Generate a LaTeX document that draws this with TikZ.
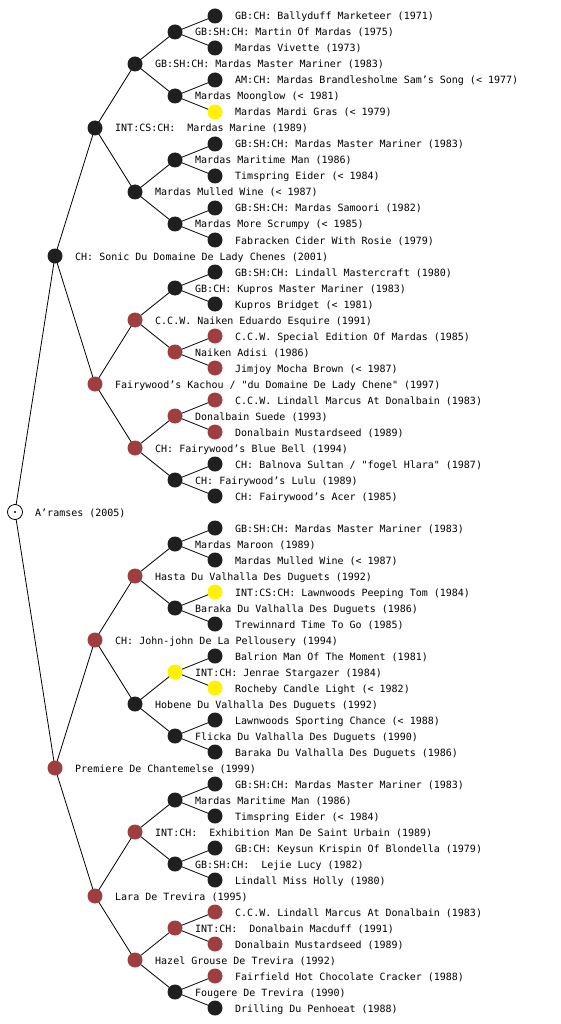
\documentclass[tikz,border=0pt]{standalone}
\usepackage{fontspec}
\setmainfont{DejaVu Sans Mono}
\usepackage{tikz}
\usetikzlibrary{backgrounds}
\definecolor{dogred}{RGB}{158,62,62}

\begin{document}
\begin{tikzpicture}[
    x=1pt, y=-1pt,
    dog/.style={circle, inner sep=0pt, minimum size=15pt},
    blkdog/.style={dog, fill=black!88},
    reddog/.style={dog, fill=dogred},
    ylwdog/.style={dog, fill=yellow},
    rootdog/.style={dog, draw=black, line width=0.8pt, fill=white,
                    minimum size=15pt},
    lbl/.style={anchor=base west, inner sep=0pt,
                font=\fontsize{10}{12}\selectfont},
    edge/.style={black, line width=0.8pt},
]

\useasboundingbox (0,0) rectangle (560,1024);

% Dogs, one per row (row = 16px), generation gives the column
\foreach \r/\g/\s/\t in {
    1/5/blkdog/GB:CH: Ballyduff Marketeer (1971),
    2/4/blkdog/GB:SH:CH: Martin Of Mardas (1975),
    3/5/blkdog/Mardas Vivette (1973),
    4/3/blkdog/GB:SH:CH: Mardas Master Mariner (1983),
    5/5/blkdog/AM:CH: Mardas Brandlesholme Sam's Song (< 1977),
    6/4/blkdog/Mardas Moonglow (< 1981),
    7/5/ylwdog/Mardas Mardi Gras (< 1979),
    8/2/blkdog/INT:CS:CH:~ Mardas Marine (1989),
    9/5/blkdog/GB:SH:CH: Mardas Master Mariner (1983),
    10/4/blkdog/Mardas Maritime Man (1986),
    11/5/blkdog/Timspring Eider (< 1984),
    12/3/blkdog/Mardas Mulled Wine (< 1987),
    13/5/blkdog/GB:SH:CH: Mardas Samoori (1982),
    14/4/blkdog/Mardas More Scrumpy (< 1985),
    15/5/blkdog/Fabracken Cider With Rosie (1979),
    16/1/blkdog/CH: Sonic Du Domaine De Lady Chenes (2001),
    17/5/blkdog/GB:SH:CH: Lindall Mastercraft (1980),
    18/4/blkdog/GB:CH: Kupros Master Mariner (1983),
    19/5/blkdog/Kupros Bridget (< 1981),
    20/3/reddog/C.C.W. Naiken Eduardo Esquire (1991),
    21/5/reddog/C.C.W. Special Edition Of Mardas (1985),
    22/4/reddog/Naiken Adisi (1986),
    23/5/reddog/Jimjoy Mocha Brown (< 1987),
    24/2/reddog/{Fairywood's Kachou / \textquotedbl du Domaine De Lady Chene\textquotedbl{} (1997)},
    25/5/reddog/C.C.W. Lindall Marcus At Donalbain (1983),
    26/4/reddog/Donalbain Suede (1993),
    27/5/reddog/Donalbain Mustardseed (1989),
    28/3/reddog/CH: Fairywood's Blue Bell (1994),
    29/5/blkdog/{CH: Balnova Sultan / \textquotedbl fogel Hlara\textquotedbl{} (1987)},
    30/4/blkdog/CH: Fairywood's Lulu (1989),
    31/5/blkdog/CH: Fairywood's Acer (1985),
    32/0/rootdog/A'ramses (2005),
    33/5/blkdog/GB:SH:CH: Mardas Master Mariner (1983),
    34/4/blkdog/Mardas Maroon (1989),
    35/5/blkdog/Mardas Mulled Wine (< 1987),
    36/3/reddog/Hasta Du Valhalla Des Duguets (1992),
    37/5/ylwdog/INT:CS:CH: Lawnwoods Peeping Tom (1984),
    38/4/blkdog/Baraka Du Valhalla Des Duguets (1986),
    39/5/blkdog/Trewinnard Time To Go (1985),
    40/2/reddog/CH: John-john De La Pellousery (1994),
    41/5/blkdog/Balrion Man Of The Moment (1981),
    42/4/ylwdog/INT:CH: Jenrae Stargazer (1984),
    43/5/ylwdog/Rocheby Candle Light (< 1982),
    44/3/blkdog/Hobene Du Valhalla Des Duguets (1992),
    45/5/blkdog/Lawnwoods Sporting Chance (< 1988),
    46/4/blkdog/Flicka Du Valhalla Des Duguets (1990),
    47/5/blkdog/Baraka Du Valhalla Des Duguets (1986),
    48/1/reddog/Premiere De Chantemelse (1999),
    49/5/blkdog/GB:SH:CH: Mardas Master Mariner (1983),
    50/4/blkdog/Mardas Maritime Man (1986),
    51/5/blkdog/Timspring Eider (< 1984),
    52/3/reddog/INT:CH:~ Exhibition Man De Saint Urbain (1989),
    53/5/blkdog/GB:CH: Keysun Krispin Of Blondella (1979),
    54/4/blkdog/GB:SH:CH:~ Lejie Lucy (1982),
    55/5/blkdog/Lindall Miss Holly (1980),
    56/2/reddog/Lara De Trevira (1995),
    57/5/reddog/C.C.W. Lindall Marcus At Donalbain (1983),
    58/4/reddog/INT:CH:~ Donalbain Macduff (1991),
    59/5/reddog/Donalbain Mustardseed (1989),
    60/3/reddog/Hazel Grouse De Trevira (1992),
    61/5/reddog/Fairfield Hot Chocolate Cracker (1988),
    62/4/blkdog/Fougere De Trevira (1990),
    63/5/blkdog/Drilling Du Penhoeat (1988)}
{
    \pgfmathsetmacro\x{\g*40+15}
    \node[\s] (n\r) at (\x, \r*16) {};
    \node[lbl] (l\r) at (\x+20, \r*16+4) {\t};
}

% centre dot of the subject
\fill (n32.center) circle (1.2pt);

% Sire/dam links, drawn behind the dogs
\begin{scope}[on background layer]
\foreach \g in {1,...,5} {
    \pgfmathtruncatemacro\st{2^(5-\g)}
    \pgfmathtruncatemacro\m{2^\g}
    \foreach \j in {1,...,\m} {
        \pgfmathtruncatemacro\r{\st*(2*\j-1)}
        \pgfmathtruncatemacro\p{isodd(\j) ? \r+\st : \r-\st}
        \draw[edge] (n\p.center) -- (n\r.center);
    }
}
\end{scope}

\end{tikzpicture}
\end{document}
